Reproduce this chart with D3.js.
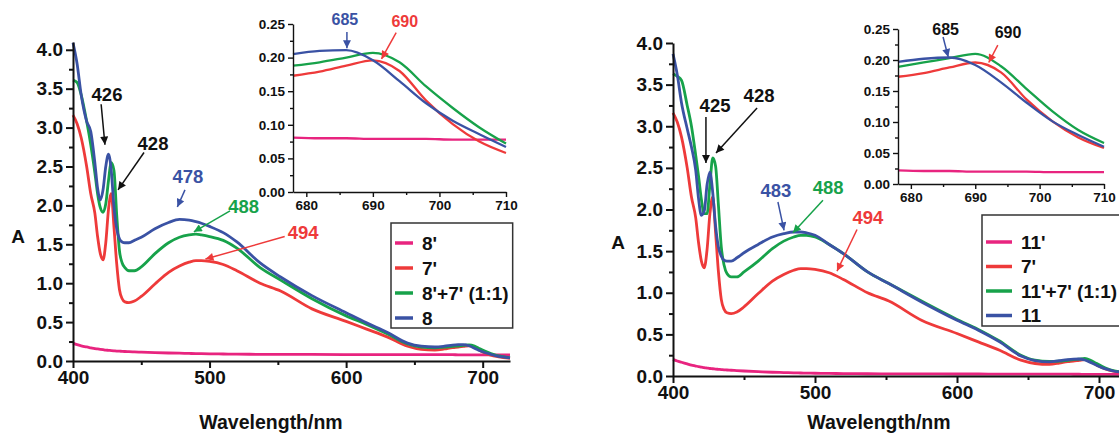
<!DOCTYPE html>
<html lang="en">
<head>
<meta charset="UTF-8"/>
<title>absorption spectra</title>
<script src="https://d3js.org/d3.v7.min.js"></script>
<style>
  body { margin: 0; background: #fff; }
  text { font-family: "Liberation Sans", Arial, sans-serif; font-weight: bold; fill: #111; }
  .axis path, .axis line { stroke: #111; }
</style>
</head>
<body>
<svg id="chart" width="1119" height="435"></svg>
<script>

// wavelength (nm), shared by every spectrum
var wavelength = [400, 403, 406, 410, 413, 416, 418, 420, 422, 424, 426, 428, 430, 432, 434, 436, 438, 441, 445, 450,
  460, 470, 478, 485, 490, 494, 500, 510, 520, 537, 552, 575, 600, 615, 630, 645, 655, 665, 672, 678,
  682, 686, 690, 694, 698, 702, 706, 710, 715, 720]

// 7' (same spectrum in both panels)
var sevenPrime = [3.16, 3.05, 2.87, 2.50, 2.15, 1.90, 1.60, 1.38, 1.30, 1.52, 1.95, 2.15, 1.72, 1.25, 0.92, 0.80, 0.76, 0.75, 0.77, 0.83,
  0.99, 1.14, 1.22, 1.27, 1.29, 1.29, 1.28, 1.24, 1.16, 1.00, 0.90, 0.67, 0.51, 0.41, 0.31, 0.19, 0.15, 0.14, 0.155, 0.173,
  0.179, 0.188, 0.196, 0.180, 0.136, 0.101, 0.075, 0.058, 0.045, 0.035]

// left panel
var eightPrime = [0.23, 0.21, 0.195, 0.18, 0.17, 0.16, 0.155, 0.15, 0.145, 0.14, 0.137, 0.134, 0.131, 0.128, 0.126, 0.124, 0.122, 0.12, 0.117, 0.114,
  0.108, 0.103, 0.10, 0.097, 0.095, 0.094, 0.092, 0.09, 0.088, 0.086, 0.085, 0.084, 0.083, 0.082, 0.082, 0.081, 0.081, 0.081, 0.081, 0.081,
  0.080, 0.080, 0.079, 0.079, 0.079, 0.078, 0.078, 0.078, 0.077, 0.077]
var eightMix = [3.61, 3.58, 3.42, 3.08, 2.78, 2.42, 2.15, 1.97, 1.91, 2.02, 2.32, 2.55, 2.45, 1.88, 1.42, 1.26, 1.20, 1.16, 1.16, 1.21,
  1.38, 1.52, 1.59, 1.62, 1.63, 1.62, 1.60, 1.55, 1.45, 1.20, 1.04, 0.80, 0.58, 0.47, 0.35, 0.22, 0.18, 0.17, 0.178, 0.188,
  0.193, 0.200, 0.207, 0.193, 0.157, 0.125, 0.096, 0.072, 0.055, 0.042]
var eight = [4.09, 3.82, 3.42, 3.08, 2.95, 2.55, 2.22, 2.07, 2.20, 2.50, 2.66, 2.45, 1.98, 1.70, 1.57, 1.53, 1.52, 1.52, 1.55, 1.59,
  1.70, 1.78, 1.82, 1.81, 1.79, 1.77, 1.73, 1.65, 1.53, 1.26, 1.08, 0.84, 0.62, 0.49, 0.37, 0.23, 0.19, 0.18, 0.19, 0.205,
  0.210, 0.211, 0.196, 0.165, 0.132, 0.106, 0.086, 0.067, 0.052, 0.04]

// right panel
var elevenPrime = [0.20, 0.18, 0.165, 0.145, 0.13, 0.12, 0.113, 0.107, 0.10, 0.095, 0.09, 0.087, 0.083, 0.08, 0.077, 0.074, 0.072, 0.069, 0.065, 0.060,
  0.052, 0.045, 0.041, 0.038, 0.036, 0.035, 0.033, 0.031, 0.029, 0.027, 0.026, 0.025, 0.024, 0.024, 0.023, 0.023, 0.023, 0.022, 0.022, 0.022,
  0.021, 0.021, 0.020, 0.020, 0.020, 0.019, 0.019, 0.019, 0.019, 0.019]
var elevenMix = [3.63, 3.60, 3.55, 3.25, 3.00, 2.65, 2.40, 2.12, 1.95, 1.95, 2.30, 2.62, 2.52, 2.05, 1.55, 1.33, 1.23, 1.19, 1.19, 1.25,
  1.38, 1.53, 1.62, 1.67, 1.69, 1.69, 1.67, 1.58, 1.47, 1.25, 1.11, 0.90, 0.68, 0.56, 0.42, 0.25, 0.19, 0.175, 0.178, 0.189,
  0.196, 0.203, 0.210, 0.190, 0.153, 0.117, 0.087, 0.066, 0.05, 0.04]
var eleven = [3.87, 3.62, 3.28, 2.97, 2.75, 2.47, 2.13, 1.93, 1.98, 2.30, 2.45, 2.20, 1.80, 1.55, 1.44, 1.39, 1.38, 1.38, 1.42, 1.48,
  1.58, 1.67, 1.71, 1.73, 1.73, 1.72, 1.69, 1.58, 1.47, 1.25, 1.11, 0.89, 0.67, 0.55, 0.41, 0.24, 0.185, 0.17, 0.185, 0.197,
  0.202, 0.204, 0.192, 0.164, 0.131, 0.101, 0.079, 0.060, 0.047, 0.038]

var legendLeft = ["8'", "7'", "8'+7' (1:1)", "8"]
var legendRight = ["11'", "7'", "11'+7' (1:1)", "11"]

var xMajor = [400, 500, 600, 700]
var xMinor = [450, 550, 650]
var insetMajor = [680, 690, 700, 710]
var insetMinor = [685, 695, 705]

var colors = ["#e8247f", "#ee3a3a", "#17a24a", "#3a52a4"]

// peak labels: text position, arrow start and arrow tip in data units
var leftNotes = [
  {t: "426", c: "#111", a: "#111", tx: 424.9, ty: 3.42, x1: 420.6, y1: 3.30, x2: 423.4, y2: 2.78},
  {t: "428", c: "#111", a: "#111", tx: 458.6, ty: 2.80, x1: 452.0, y1: 2.68, x2: 433.0, y2: 2.20},
  {t: "478", c: colors[3], a: colors[3], tx: 484.2, ty: 2.37, x1: 482.0, y1: 2.20, x2: 476.4, y2: 1.98},
  {t: "488", c: colors[2], a: colors[2], tx: 525.0, ty: 1.98, x1: 515.0, y1: 1.93, x2: 488.5, y2: 1.66},
  {t: "494", c: colors[1], a: colors[1], tx: 568.5, ty: 1.65, x1: 555.0, y1: 1.60, x2: 497.0, y2: 1.31}
]
var leftInsetNotes = [
  {t: "685", c: colors[3], a: colors[3], tx: 685.8, ty: 0.256, x1: 686.1, y1: 0.238, x2: 686.1, y2: 0.214},
  {t: "690", c: colors[1], a: colors[1], tx: 694.8, ty: 0.253, x1: 693.5, y1: 0.237, x2: 691.3, y2: 0.198}
]
var rightNotes = [
  {t: "425", c: "#111", a: "#111", tx: 429.6, ty: 3.25, x1: 423.2, y1: 3.11, x2: 423.2, y2: 2.56},
  {t: "428", c: "#111", a: "#111", tx: 460.6, ty: 3.37, x1: 459.2, y1: 3.22, x2: 430.3, y2: 2.68},
  {t: "483", c: colors[3], a: colors[3], tx: 472.5, ty: 2.23, x1: 473.9, y1: 2.09, x2: 478.2, y2: 1.75},
  {t: "488", c: colors[2], a: colors[2], tx: 509.2, ty: 2.26, x1: 505.6, y1: 2.11, x2: 484.5, y2: 1.72},
  {t: "494", c: colors[1], a: colors[1], tx: 537.3, ty: 1.90, x1: 529.6, y1: 1.76, x2: 515.5, y2: 1.26}
]
var rightInsetNotes = [
  {t: "685", c: "#111", a: colors[3], tx: 685.4, ty: 0.250, x1: 685.0, y1: 0.237, x2: 685.8, y2: 0.205},
  {t: "690", c: "#111", a: colors[1], tx: 695.1, ty: 0.244, x1: 693.5, y1: 0.224, x2: 692.1, y2: 0.196}
]

var svg = d3.select("#chart")

// arrow heads, one per colour
var defs = svg.append("defs")
var arrowColors = ["#111"].concat(colors)
arrowColors.forEach(function(c, i) {
  defs.append("marker")
    .attr("id", "arrow" + i)
    .attr("viewBox", "0 0 10 10")
    .attr("refX", 10).attr("refY", 5)
    .attr("markerWidth", 9).attr("markerHeight", 8)
    .attr("markerUnits", "userSpaceOnUse")
    .attr("orient", "auto")
    .append("path")
    .attr("d", "M0,0 L10,5 L0,10 z")
    .attr("fill", c)
})
function markerFor(c) { return "url(#arrow" + arrowColors.indexOf(c) + ")" }

function drawAxes(g, x, y, opt) {
  var xa = g.append("g").attr("class", "axis")
    .attr("transform", "translate(0," + y.range()[0] + ")")
  xa.call(d3.axisBottom(x).tickValues(opt.xMajor).tickSize(opt.major).tickSizeOuter(0).tickPadding(opt.pad).tickFormat(d3.format("d")))
  xa.append("g").call(d3.axisBottom(x).tickValues(opt.xMinor).tickSize(opt.minor).tickSizeOuter(0).tickFormat(""))
    .select(".domain").remove()
  xa.selectAll("path, line").attr("stroke-width", opt.sw)
  xa.selectAll("text").style("font-size", opt.font + "px").attr("fill", "#111")

  var ya = g.append("g").attr("class", "axis")
    .attr("transform", "translate(" + x.range()[0] + ",0)")
  ya.call(d3.axisLeft(y).tickValues(opt.yMajor).tickSize(opt.major).tickSizeOuter(0).tickPadding(opt.pad).tickFormat(d3.format(opt.yFmt)))
  ya.append("g").call(d3.axisLeft(y).tickValues(opt.yMinor).tickSize(opt.minor).tickSizeOuter(0).tickFormat(""))
    .select(".domain").remove()
  ya.selectAll("path, line").attr("stroke-width", opt.sw)
  ya.selectAll("text").style("font-size", opt.font + "px").attr("fill", "#111")
}

function drawCurves(g, x, y, series, lo, hi, width) {
  var line = d3.line()
    .x(function(d) { return x(d[0]) })
    .y(function(d) { return y(d[1]) })
    .curve(d3.curveMonotoneX)
  series.forEach(function(s, i) {
    var pts = wavelength.map(function(w, j) { return [w, s[j]] })
      .filter(function(d) { return d[0] >= lo && d[0] <= hi })
    g.append("path")
      .attr("d", line(pts))
      .attr("fill", "none")
      .attr("stroke", colors[i])
      .attr("stroke-width", width)
      .attr("stroke-linejoin", "round")
  })
}

function drawNotes(g, x, y, notes, size) {
  notes.forEach(function(n) {
    g.append("line")
      .attr("x1", x(n.x1)).attr("y1", y(n.y1))
      .attr("x2", x(n.x2)).attr("y2", y(n.y2))
      .attr("stroke", n.a).attr("stroke-width", 1.5)
      .attr("marker-end", markerFor(n.a))
    g.append("text")
      .attr("x", x(n.tx)).attr("y", y(n.ty))
      .attr("text-anchor", "middle")
      .attr("dominant-baseline", "central")
      .style("font-size", size + "px")
      .style("fill", n.c)
      .text(n.t)
  })
}

function drawPanel(p) {
  var g = svg.append("g")

  // main plot
  var x = d3.scaleLinear().domain([400, 720]).range(p.xRange)
  var y = d3.scaleLinear().domain([0, p.yMax]).range(p.yRange)
  drawCurves(g, x, y, p.series, 400, 720, 2.8)
  drawAxes(g, x, y, {xMajor: xMajor, xMinor: xMinor,
    yMajor: d3.range(0, 4.01, 0.5), yMinor: d3.range(0.25, p.yMax, 0.5),
    major: 7, minor: 4, pad: 3, sw: 2, font: 19, yFmt: ".1f"})
  drawNotes(g, x, y, p.notes, 18.5)

  g.append("text")
    .attr("x", x.range()[0] - 55).attr("y", y(1.6))
    .attr("text-anchor", "middle").attr("dominant-baseline", "central")
    .style("font-size", "19px").text("A")
  g.append("text")
    .attr("x", x(545)).attr("y", p.xTitleY)
    .attr("text-anchor", "middle").attr("dominant-baseline", "central")
    .style("font-size", "19.5px").text("Wavelength/nm")

  // inset
  var xi = d3.scaleLinear().domain([678, 710]).range(p.insetX)
  var yi = d3.scaleLinear().domain([0, 0.25]).range(p.insetY)
  drawCurves(g, xi, yi, p.series, 678, 710, 2.3)
  drawAxes(g, xi, yi, {xMajor: insetMajor, xMinor: insetMinor,
    yMajor: d3.range(0, 0.2501, 0.05), yMinor: d3.range(0.025, 0.25, 0.05),
    major: 5, minor: 3, pad: 3, sw: 1.4, font: 13.5, yFmt: ".2f"})
  drawNotes(g, xi, yi, p.insetNotes, 16)

  // legend
  var lg = g.append("g").attr("transform", "translate(" + p.legend[0] + "," + p.legend[1] + ")")
  var box = lg.append("rect")
    .attr("fill", "white").attr("stroke", "#333").attr("stroke-width", 1.5)
  var items = lg.selectAll("g.item").data(p.labels).enter().append("g")
    .attr("transform", function(d, i) { return "translate(0," + (p.legendTop + i * p.legendStep) + ")" })
  items.append("line")
    .attr("x1", 2).attr("x2", p.legendLine)
    .attr("stroke", function(d, i) { return colors[i] })
    .attr("stroke-width", 3.5)
  items.append("text")
    .attr("x", p.legendLine + 9)
    .attr("dominant-baseline", "central")
    .style("font-size", "19px")
    .text(function(d) { return d })
  var w = d3.max(items.selectAll("text").nodes(), function(n) { return n.getComputedTextLength() })
  box.attr("x", -2).attr("y", 0)
    .attr("width", p.legendLine + 9 + w + 6)
    .attr("height", p.legendHeight)
  box.lower()
}

drawPanel({
  series: [eightPrime, sevenPrime, eightMix, eight],
  labels: legendLeft,
  xRange: [73, 510], yRange: [361, 42], yMax: 4.1,
  insetX: [293, 506], insetY: [192, 24],
  notes: leftNotes, insetNotes: leftInsetNotes,
  xTitleY: 422,
  legend: [393, 223], legendTop: 20, legendStep: 25, legendLine: 20, legendHeight: 105
})

drawPanel({
  series: [elevenPrime, sevenPrime, elevenMix, eleven],
  labels: legendRight,
  xRange: [673, 1127.4], yRange: [376, 43], yMax: 4.0,
  insetX: [898, 1104], insetY: [184, 29],
  notes: rightNotes, insetNotes: rightInsetNotes,
  xTitleY: 422,
  legend: [984, 215], legendTop: 27, legendStep: 24.5, legendLine: 28, legendHeight: 111
})

</script>
</body>
</html>
